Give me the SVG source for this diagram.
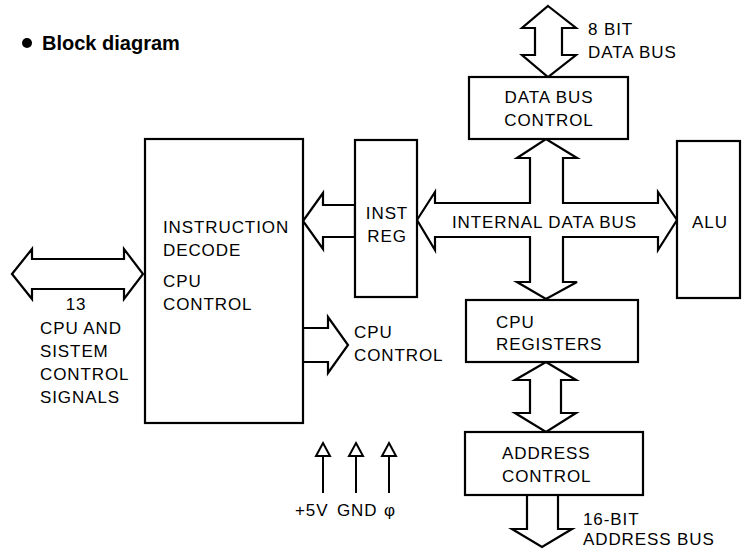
<svg xmlns="http://www.w3.org/2000/svg" width="747" height="549" viewBox="0 0 747 549">
<style>
.box{fill:#fff;stroke:#000;stroke-width:2.2}
.bus{fill:#fff;stroke:#000;stroke-width:2.2;stroke-linejoin:miter}
.t{font-family:"Liberation Sans",Arial,sans-serif;font-size:17px;fill:#000;letter-spacing:0.9px}
.c{text-anchor:middle}
.pin{fill:none;stroke:#000;stroke-width:2}
</style>
<rect width="747" height="549" fill="#fff"/>
<g id="title">
<circle cx="27" cy="43" r="5" fill="#000"/>
<text x="42" y="50" font-family="Liberation Sans,Arial,sans-serif" font-size="20" font-weight="bold">Block diagram</text>
</g>
<g id="connectors">
<polygon class="bus" points="12,274 32,249 32,259 124,259 124,249 143,274 124,299 124,289 32,289 32,299"/>
<polygon class="bus" points="303,221 323,193 323,205 355,205 355,237 323,237 323,249"/>
<polygon class="bus" points="417,220 435,192 435,203 530,203 530,158 517,158 546,139 577,158 563,158 563,203 658,203 658,192 677,220 658,250 658,237 563,237 563,282 577,282 546,299 517,282 530,282 530,237 435,237 435,250"/>
<polygon class="bus" points="548,6 576,28 562,28 562,55 576,55 548,77 522,55 535,55 535,28 522,28"/>
<polygon class="bus" points="546,362 576,380 561,380 561,413 576,413 546,432 515,413 530,413 530,380 515,380"/>
<polygon class="bus" points="527,495 558,495 558,529 572,529 542,547 512,529 527,529"/>
<polygon class="bus" points="303,328 328,328 328,317 348,345 328,373 328,362 303,362"/>
<path class="pin" d="M323,493V456M356,493V456M389,493V456"/>
<polygon class="pin" points="323,443 330,456 316,456"/>
<polygon class="pin" points="356,443 363,456 349,456"/>
<polygon class="pin" points="389,443 396,456 382,456"/>
</g>
<g id="decode">
<rect class="box" x="145" y="139" width="158" height="284"/>
<text class="t" x="163" y="233">INSTRUCTION</text>
<text class="t" x="163" y="256">DECODE</text>
<text class="t" x="163" y="287">CPU</text>
<text class="t" x="163" y="310">CONTROL</text>
</g>
<g id="instreg">
<rect class="box" x="355" y="140" width="62" height="157"/>
<text class="t c" x="387" y="219">INST</text>
<text class="t c" x="387" y="242">REG</text>
</g>
<g id="databus">
<rect class="box" x="469" y="77" width="159" height="62"/>
<text class="t c" x="549" y="103">DATA BUS</text>
<text class="t c" x="549" y="126">CONTROL</text>
</g>
<g id="alu">
<rect class="box" x="677" y="141" width="63" height="157"/>
<text class="t c" x="710" y="228">ALU</text>
</g>
<g id="registers">
<rect class="box" x="466" y="300" width="172" height="62"/>
<text class="t" x="496" y="328">CPU</text>
<text class="t" x="496" y="350">REGISTERS</text>
</g>
<g id="address">
<rect class="box" x="465" y="432" width="178" height="63"/>
<text class="t" x="502" y="459">ADDRESS</text>
<text class="t" x="502" y="482">CONTROL</text>
</g>
<g id="labels">
<text class="t" x="452" y="228">INTERNAL DATA BUS</text>
<text class="t" x="588" y="35">8 BIT</text>
<text class="t" x="588" y="58">DATA BUS</text>
<text class="t" x="583" y="525">16-BIT</text>
<text class="t" x="583" y="545">ADDRESS BUS</text>
<text class="t" x="354" y="338">CPU</text>
<text class="t" x="354" y="361">CONTROL</text>
<text class="t c" x="76" y="310">13</text>
<text class="t" x="40" y="334">CPU AND</text>
<text class="t" x="40" y="357">SISTEM</text>
<text class="t" x="40" y="380">CONTROL</text>
<text class="t" x="40" y="403">SIGNALS</text>
<text class="t" x="295" y="516">+5V</text>
<text class="t" x="337" y="516">GND</text>
<text class="t" x="384" y="516">φ</text>
</g>
</svg>
